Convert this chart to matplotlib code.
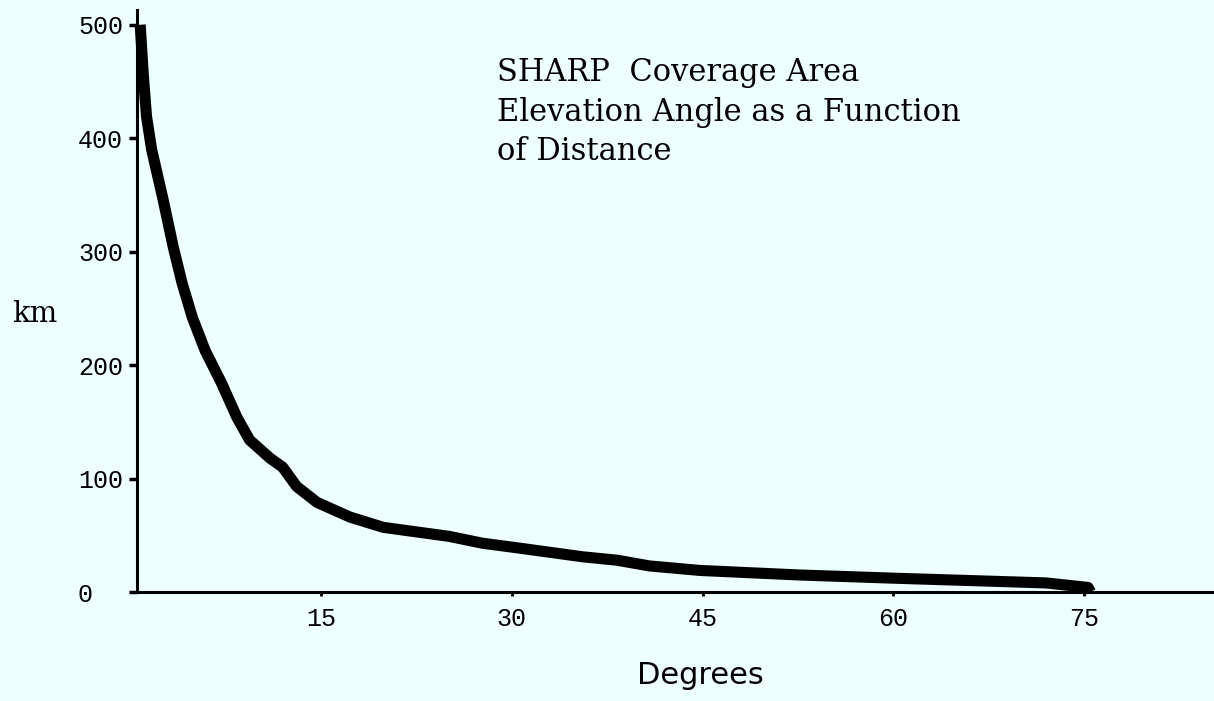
import matplotlib
matplotlib.use("Agg")
import matplotlib.pyplot as plt

# curve: elevation angle (deg) vs distance (km)
degrees = [0.8, 1.05, 1.3, 1.7, 2.6, 3.4, 4.1, 4.9, 5.9, 7.2, 8.4, 9.4, 10.0,
           11.0, 12.0, 13.1, 14.7, 17.3, 19.9, 22.5, 25.1, 27.7, 30.4, 33.0,
           35.6, 38.3, 40.8, 44.8, 52.6, 60.5, 66.3, 72.0, 75.3, 75.5]
km = [500, 455, 419, 390, 346, 304, 272, 242, 213, 184, 154, 134, 128,
      118, 110, 93, 79, 66, 57, 53, 49, 43, 39, 35,
      31, 28, 23, 19, 15, 12, 10, 8, 4, 0]

x_ticks = [15, 30, 45, 60, 75]
y_ticks = [0, 100, 200, 300, 400, 500]
title_lines = ["SHARP  Coverage Area", "Elevation Angle as a Function", "of Distance"]

BG = "#eeffff"
W, H = 1214, 701

fig = plt.figure(figsize=(W / 100, H / 100), dpi=100, facecolor=BG)
ax = fig.add_axes([137 / W, (H - 592) / H, (W - 137) / W, (592 - 10) / H], facecolor=BG)

ax.plot(degrees, km, color="black", linewidth=8, solid_capstyle="butt",
        solid_joinstyle="round", clip_on=False)

ax.set_xlim(0.55, 85.2)
ax.set_ylim(0, 513)

for side in ("top", "right"):
    ax.spines[side].set_visible(False)
for side in ("left", "bottom"):
    ax.spines[side].set_linewidth(2.2)
    ax.spines[side].set_color("black")

ax.set_xticks(x_ticks)
ax.set_xticklabels([str(v) for v in x_ticks], family="Liberation Mono", fontsize=18)
ax.set_yticks(y_ticks)
ax.set_yticklabels([str(v) for v in y_ticks], family="Liberation Mono", fontsize=18)
ax.tick_params(axis="x", length=3, width=2, pad=8)
ax.tick_params(axis="y", length=6, width=2.5, pad=36.5)
for lab in ax.get_yticklabels():
    lab.set_horizontalalignment("left")

fig.text(12 / W, 1 - 314 / H, "km", family="DejaVu Serif", fontsize=21, va="center")
fig.text(700 / W, 1 - 676 / H, "Degrees", family="DejaVu Sans", fontsize=22,
         ha="center", va="center")
for i, line in enumerate(title_lines):
    fig.text(497 / W, 1 - (72 + 40 * i) / H, line, family="DejaVu Serif",
             fontsize=22, va="center")

fig.savefig("out.png", dpi=100, facecolor=BG)
